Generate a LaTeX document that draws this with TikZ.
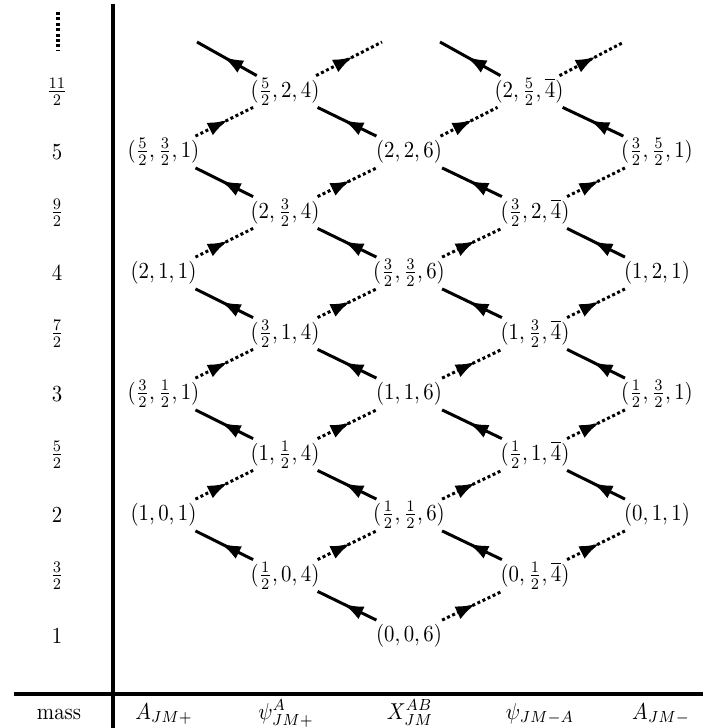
\documentclass[tikz,border=0pt]{standalone}
\usepackage{graphicx}
\usetikzlibrary{arrows.meta,decorations.markings}
\newcommand\SX[1]{\scalebox{1.04}[1.15]{#1}}
\begin{document}
\begin{tikzpicture}[x=0.5pt,y=-0.5pt,
  st/.style={inner sep=2pt, text height=8.6pt, text depth=2.9pt},
  sol/.style={line width=1.5pt, postaction={decorate},
    decoration={markings, mark=at position 0.56 with {\arrow{Latex[length=10pt,width=7pt]}}}},
  dotedge/.style={line width=1.5pt, dash pattern=on 1.5pt off 1.3pt, postaction={decorate},
    decoration={markings, mark=at position 0.56 with {\arrow{Latex[length=10pt,width=7pt]}}}},
  axis/.style={line width=2pt},
  mlab/.style={inner sep=0pt},
  blab/.style={anchor=base, inner sep=0pt}]
\useasboundingbox (0,0) rectangle (708,728);
% axes
\draw[axis] (113,4) -- (113,728);
\draw[axis] (14,694) -- (703,694);
\draw[line width=2pt, dash pattern=on 1.5pt off 1.2pt] (58,12) -- (58,50);
% mass labels
\node[mlab] (m2) at (57,636) {\SX{$1$}};
\node[mlab] (m3) at (57,575.5) {\SX{$\frac{3}{2}$}};
\node[mlab] (m4) at (57,515) {\SX{$2$}};
\node[mlab] (m5) at (57,454.5) {\SX{$\frac{5}{2}$}};
\node[mlab] (m6) at (57,394) {\SX{$3$}};
\node[mlab] (m7) at (57,333.5) {\SX{$\frac{7}{2}$}};
\node[mlab] (m8) at (57,273) {\SX{$4$}};
\node[mlab] (m9) at (57,212.5) {\SX{$\frac{9}{2}$}};
\node[mlab] (m10) at (57,152) {\SX{$5$}};
\node[mlab] (m11) at (57,91.5) {\SX{$\frac{11}{2}$}};
% bottom labels
\node[blab] (l0) at (59,719) {\SX{mass}};
\node[blab] (l1) at (164,719) {\SX{$A_{JM+}$}};
\node[blab] (l2) at (286,719) {\SX{$\psi^A_{JM+}$}};
\node[blab] (l3) at (410,719) {\SX{$X^{AB}_{JM}$}};
\node[blab] (l4) at (540,719) {\SX{$\psi_{JM-A}$}};
\node[blab] (l5) at (661,719) {\SX{$A_{JM-}$}};
% column 1
\node[st] (a4) at (163.5,515) {\SX{$(1,0,1)$}};
\node[st] (a6) at (163.5,394) {\SX{$(\frac{3}{2},\frac{1}{2},1)$}};
\node[st] (a8) at (163.5,273) {\SX{$(2,1,1)$}};
\node[st] (a10) at (163.5,152) {\SX{$(\frac{5}{2},\frac{3}{2},1)$}};
% column 2
\node[st] (b3) at (285,575.5) {\SX{$(\frac{1}{2},0,4)$}};
\node[st] (b5) at (285,454.5) {\SX{$(1,\frac{1}{2},4)$}};
\node[st] (b7) at (285,333.5) {\SX{$(\frac{3}{2},1,4)$}};
\node[st] (b9) at (285,212.5) {\SX{$(2,\frac{3}{2},4)$}};
\node[st] (b11) at (285,91.5) {\SX{$(\frac{5}{2},2,4)$}};
% column 3
\node[st] (c2) at (409,636) {\SX{$(0,0,6)$}};
\node[st] (c4) at (409,515) {\SX{$(\frac{1}{2},\frac{1}{2},6)$}};
\node[st] (c6) at (409,394) {\SX{$(1,1,6)$}};
\node[st] (c8) at (409,273) {\SX{$(\frac{3}{2},\frac{3}{2},6)$}};
\node[st] (c10) at (409,152) {\SX{$(2,2,6)$}};
% column 4
\node[st] (d3) at (535,575.5) {\SX{$(0,\frac{1}{2},\overline{4})$}};
\node[st] (d5) at (535,454.5) {\SX{$(\frac{1}{2},1,\overline{4})$}};
\node[st] (d7) at (535,333.5) {\SX{$(1,\frac{3}{2},\overline{4})$}};
\node[st] (d9) at (535,212.5) {\SX{$(\frac{3}{2},2,\overline{4})$}};
\node[st] (d11) at (529,91.5) {\SX{$(2,\frac{5}{2},\overline{4})$}};
% column 5
\node[st] (e4) at (657,515) {\SX{$(0,1,1)$}};
\node[st] (e6) at (657,394) {\SX{$(\frac{1}{2},\frac{3}{2},1)$}};
\node[st] (e8) at (657,273) {\SX{$(1,2,1)$}};
\node[st] (e10) at (657,152) {\SX{$(\frac{3}{2},\frac{5}{2},1)$}};
% free ends
\coordinate (t1) at (197,42);
\coordinate (t2) at (382,42);
\coordinate (t3) at (440,42);
\coordinate (t4) at (624,42);
% solid edges
\foreach \p/\q in {b3/a4,b5/a6,b7/a8,b9/a10,b11/t1,
                   c2/b3,c4/b5,c6/b7,c8/b9,c10/b11,
                   d3/c4,d5/c6,d7/c8,d9/c10,d11/t3,
                   e4/d5,e6/d7,e8/d9,e10/d11}
  \draw[sol] (\p) -- (\q);
% dotted edges
\foreach \p/\q in {a4/b5,a6/b7,a8/b9,a10/b11,
                   b3/c4,b5/c6,b7/c8,b9/c10,b11/t2,
                   c2/d3,c4/d5,c6/d7,c8/d9,c10/d11,
                   d3/e4,d5/e6,d7/e8,d9/e10,d11/t4}
  \draw[dotedge] (\p) -- (\q);
\end{tikzpicture}
\end{document}
